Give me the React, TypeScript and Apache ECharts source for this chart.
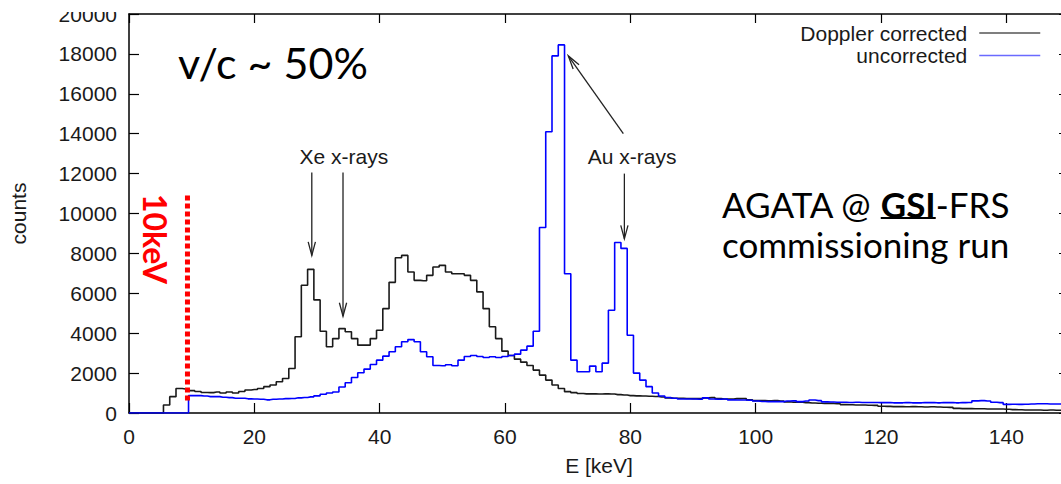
import React, { useEffect, useRef } from "react";
import * as echarts from "echarts";

// 1 keV bins, bin i is centred on i keV
const BIN_WIDTH_KEV = 1;

const SERIES_NAMES = ["Doppler corrected", "uncorrected"];

const dopplerCorrected = [
  0, 0, 0, 0, 0, 0, 400, 820, 1230, 1200,
  1120, 1080, 1030, 1020, 1050, 1000, 1050, 1000, 1080, 1150,
  1180, 1230, 1320, 1400, 1570, 1730, 2230, 3820, 6400, 7200,
  5670, 4100, 3320, 3730, 4230, 4070, 3730, 3400, 3400, 3730,
  4150, 5230, 6550, 7780, 7900, 7070, 6650, 6630, 6900, 7320,
  7400, 7070, 6980, 6980, 6900, 6650, 6070, 5230, 4320, 3730,
  3100, 2880, 2700, 2550, 2380, 2150, 1900, 1650, 1400, 1230,
  1070, 1020, 980, 960, 960, 950, 960, 950, 920, 900,
  870, 860, 850, 840, 830, 800, 760, 740, 740, 730,
  720, 730, 760, 780, 720, 700, 700, 720, 730, 660,
  620, 620, 610, 620, 600, 560, 540, 540, 520, 500,
  490, 480, 480, 460, 420, 410, 400, 400, 390, 380,
  340, 330, 320, 320, 310, 320, 310, 300, 310, 300,
  290, 280, 230, 220, 220, 210, 210, 200, 200, 200,
  190, 170, 160, 150, 150, 150, 140, 150, 140, 140,
];

const uncorrected = [
  0, 0, 0, 0, 0, 0, 0, 0, 0, 0,
  870, 870, 850, 820, 820, 790, 770, 740, 740, 710,
  700, 690, 660, 690, 700, 720, 730, 760, 780, 810,
  860, 940, 1000, 1050, 1300, 1520, 1780, 2020, 2200, 2430,
  2650, 2850, 3070, 3320, 3570, 3680, 3570, 3070, 2820, 2380,
  2370, 2420, 2370, 2650, 2830, 2880, 2830, 2780, 2820, 2780,
  2830, 2880, 2950, 3150, 3350, 4100, 9300, 14100, 17900, 18450,
  6980, 2650, 2070, 2070, 2350, 2070, 2500, 5150, 8550, 8250,
  3900, 2000, 1650, 1320, 1000, 850, 780, 740, 700, 700,
  700, 690, 760, 700, 690, 700, 660, 650, 650, 640,
  600, 580, 570, 570, 570, 600, 610, 570, 600, 650,
  620, 560, 550, 540, 540, 530, 540, 530, 530, 530,
  520, 520, 510, 510, 520, 510, 510, 520, 520, 510,
  520, 520, 510, 520, 530, 610, 620, 600, 540, 520,
  430, 440, 430, 440, 450, 460, 460, 450, 450, 450,
];

const X_MIN = 0;
const X_MAX = 150;
const X_INTERVAL = 20;
const Y_MIN = 0;
const Y_MAX = 20000;
const Y_INTERVAL = 2000;

// annotations in data coordinates (keV, counts)
const xeArrows = [
  { from: [29.17, 12050], to: [29.17, 7900] },
  { from: [34.15, 12050], to: [34.15, 4850] },
];
const auArrows = [
  { from: [78.88, 14000], to: [70.1, 17900] },
  { from: [79.05, 12000], to: [79.05, 8730] },
];
const xeLabel = { text: "Xe x-rays", at: [27.2, 12850] };
const auLabel = { text: "Au x-rays", at: [73.2, 12850] };
const thresholdLine = { x: 9.33, yTop: 10900, yBottom: 500 };

export default function App() {
  const ref = useRef<HTMLDivElement>(null);

  useEffect(() => {
    const el = ref.current as HTMLDivElement;
    const chart = echarts.init(el, null, { renderer: "svg" });
    const font = "'Liberation Sans', Arial, Helvetica, sans-serif";
    const ink = "#1a1a1a";
    const toPairs = (arr: number[]) => arr.map((c, i) => [i * BIN_WIDTH_KEV, c]);
    const plain = (v: number) => String(v);

    const axisCommon = {
      type: "value",
      axisLine: { show: true, onZero: false, lineStyle: { color: "#000", width: 1.5 } },
      axisTick: { show: true, inside: true, length: 10, lineStyle: { color: "#000", width: 1.2 } },
      splitLine: { show: false },
    };

    chart.setOption({
      animation: false,
      backgroundColor: "#ffffff",
      grid: {
        left: 129,
        right: -8,
        top: 14,
        bottom: 71,
        containLabel: false,
        outerBoundsMode: "none",
      },
      legend: {
        orient: "vertical",
        right: 15,
        top: 17,
        align: "right",
        itemWidth: 61,
        itemHeight: 22,
        itemGap: 0.5,
        selectedMode: false,
        textStyle: { fontFamily: font, fontSize: 21, color: ink, lineHeight: 22, padding: [0, 7, 0, 0] },
        data: [
          {
            name: SERIES_NAMES[0],
            itemStyle: { color: "#555", opacity: 0 },
            lineStyle: { color: "#555", width: 1.5 },
          },
          {
            name: SERIES_NAMES[1],
            itemStyle: { color: "#6a6aff", opacity: 0 },
            lineStyle: { color: "#6a6aff", width: 1.5 },
          },
        ],
      },
      xAxis: [
        {
          ...axisCommon,
          min: X_MIN,
          max: X_MAX,
          interval: X_INTERVAL,
          name: "E [keV]",
          nameLocation: "middle",
          nameGap: 42,
          nameTextStyle: { fontFamily: font, fontSize: 21, color: ink },
          axisLabel: {
            fontFamily: font,
            fontSize: 21,
            color: ink,
            margin: 13,
            formatter: plain,
            showMaxLabel: false,
          },
        },
        {
          ...axisCommon,
          position: "top",
          min: X_MIN,
          max: X_MAX,
          interval: X_INTERVAL,
          axisTick: { show: true, inside: true, length: 9, lineStyle: { color: "#000", width: 1.2 } },
          axisLabel: { show: false },
        },
      ],
      yAxis: [
        {
          ...axisCommon,
          min: Y_MIN,
          max: Y_MAX,
          interval: Y_INTERVAL,
          name: "counts",
          nameLocation: "middle",
          nameRotate: 90,
          nameGap: 100,
          nameTextStyle: { fontFamily: font, fontSize: 21, color: ink },
          axisLabel: { fontFamily: font, fontSize: 21, color: ink, margin: 12, formatter: plain },
        },
        {
          ...axisCommon,
          position: "right",
          min: Y_MIN,
          max: Y_MAX,
          interval: Y_INTERVAL,
          axisLabel: { show: false },
        },
      ],
      series: [
        {
          name: SERIES_NAMES[0],
          type: "line",
          step: "middle",
          data: toPairs(dopplerCorrected),
          symbol: "none",
          color: "#1a1a1a",
          lineStyle: { color: "#1a1a1a", width: 1.6 },
          z: 2,
        },
        {
          name: SERIES_NAMES[1],
          type: "line",
          step: "middle",
          data: toPairs(uncorrected),
          symbol: "none",
          color: "#0000ff",
          lineStyle: { color: "#0000ff", width: 1.6 },
          z: 3,
        },
      ],
    });

    const px = (p: number[]) => chart.convertToPixel({ xAxisIndex: 0, yAxisIndex: 0 }, p) as number[];

    const arrowEls = (from: number[], to: number[]) => {
      const a = px(from);
      const b = px(to);
      const dx = b[0] - a[0];
      const dy = b[1] - a[1];
      const len = Math.hypot(dx, dy) || 1;
      const ux = dx / len;
      const uy = dy / len;
      const L = 14;
      const ang = (15 * Math.PI) / 180;
      const rot = (s: number) => [
        b[0] - L * (ux * Math.cos(s * ang) - uy * Math.sin(s * ang)),
        b[1] - L * (ux * Math.sin(s * ang) + uy * Math.cos(s * ang)),
      ];
      return [
        { type: "line", shape: { x1: a[0], y1: a[1], x2: b[0], y2: b[1] }, style: { stroke: "#222", lineWidth: 1.3 }, z: 50 },
        { type: "polyline", shape: { points: [rot(1), b, rot(-1)] }, style: { stroke: "#222", fill: null, lineWidth: 1.3 }, z: 50 },
      ];
    };

    const ctx = document.createElement("canvas").getContext("2d") as CanvasRenderingContext2D;
    const pptFont = "Lato, 'Open Sans', sans-serif";
    const measure = (text: string, f: string) => {
      ctx.font = f;
      return ctx.measureText(text).width;
    };

    const agataSize = 35;
    const fNormal = `${agataSize}px ${pptFont}`;
    const fBold = `bold ${agataSize}px ${pptFont}`;
    const agX = 722;
    const agY = 204;
    const part1 = "AGATA @ ";
    const part2 = "GSI";
    const part3 = "-FRS";
    const w1 = measure(part1, fNormal);
    const w2 = measure(part2, fBold);

    const xeP = px(xeLabel.at);
    const auP = px(auLabel.at);
    const tTop = px([thresholdLine.x, thresholdLine.yTop]);
    const tBot = px([thresholdLine.x, thresholdLine.yBottom]);

    const txt = (x: number, y: number, text: string, f: string, fill: string, align = "left", extra: any = {}) => ({
      type: "text",
      x,
      y,
      z: 60,
      ...extra,
      style: { text, font: f, fill, textAlign: align, align, textVerticalAlign: "middle", verticalAlign: "middle" },
    });

    chart.setOption({
      graphic: [
        { type: "rect", shape: { x: 0, y: 0, width: 126, height: 12 }, style: { fill: "#fff" }, z: 100 },
        txt(178, 62, "v/c ~ 50%", `43px ${pptFont}`, "#000"),
        txt(155, 239, "10keV", `bold 32px ${pptFont}`, "#ff0000", "center", { rotation: -Math.PI / 2 }),
        {
          type: "line",
          shape: { x1: tTop[0], y1: tTop[1], x2: tBot[0], y2: tBot[1] },
          style: { stroke: "#ff0000", lineWidth: 5, lineDash: [5, 3] },
          z: 55,
        },
        txt(xeP[0], xeP[1], xeLabel.text, `21px ${font}`, ink),
        txt(auP[0], auP[1], auLabel.text, `21px ${font}`, ink),
        ...xeArrows.flatMap((a) => arrowEls(a.from, a.to)),
        ...auArrows.flatMap((a) => arrowEls(a.from, a.to)),
        txt(agX, agY, part1, fNormal, "#000"),
        txt(agX + w1, agY, part2, fBold, "#000"),
        txt(agX + w1 + w2, agY, part3, fNormal, "#000"),
        {
          type: "line",
          shape: { x1: agX + w1, y1: agY + 14, x2: agX + w1 + w2, y2: agY + 14 },
          style: { stroke: "#000", lineWidth: 2 },
          z: 60,
        },
        txt(agX, agY + 40, "commissioning run", fNormal, "#000"),
      ],
    });

    return () => chart.dispose();
  }, []);

  return (
    <div
      ref={ref}
      style={{ position: "absolute", left: 0, top: 0, width: 1061, height: 484, background: "#fff" }}
    />
  );
}
